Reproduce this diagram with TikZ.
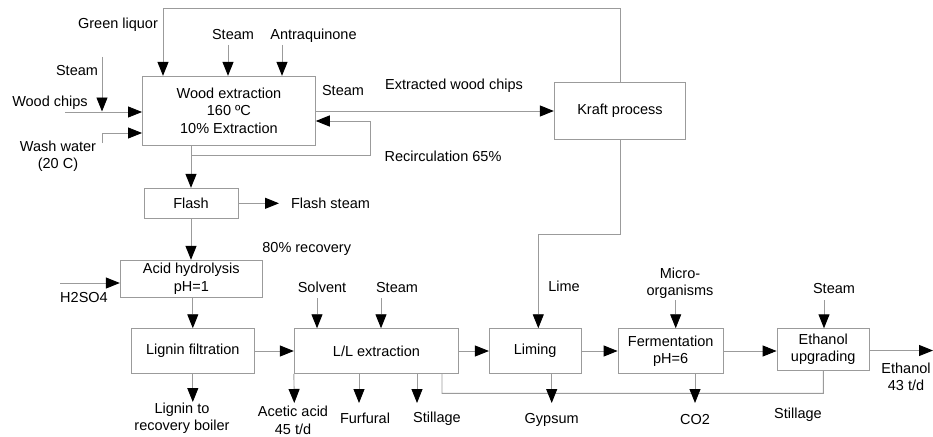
\documentclass[tikz,border=0pt]{standalone}
\usepackage{fontspec}
\setmainfont{Liberation Sans}
\usetikzlibrary{arrows.meta}
\definecolor{lg}{RGB}{155,155,155}
\begin{document}
\begin{tikzpicture}[x=1pt,y=-1pt,
  font=\fontsize{14.5}{17.5}\selectfont,
  box/.style={draw=lg, line width=0.9pt, fill=white, align=center, inner sep=0pt},
  ln/.style={draw=lg, line width=0.9pt},
  arr/.style={ln, -{Triangle[length=14pt,width=11pt,color=black]}},
  lbl/.style={inner sep=0pt, anchor=base},
  mlbl/.style={inner sep=0pt, align=center}]
\useasboundingbox (0,0) rectangle (933,436);

% boxes
\node[box,minimum width=172.8pt,minimum height=69pt] (we) at (228.9,110.8) {Wood extraction\\160 ºC\\10\% Extraction};
\node[box,minimum width=131.4pt,minimum height=56.7pt] (kraft) at (620,110.7) {Kraft process};
\node[box,minimum width=94pt,minimum height=30pt] (flash) at (191,203.3) {Flash};
\node[box,minimum width=142pt,minimum height=37pt] (acid) at (191.3,278.8) {Acid hydrolysis\\pH=1};
\node[box,minimum width=123pt,minimum height=44.6pt] (lig) at (192.8,351) {Lignin filtration};
\node[box,minimum width=164.4pt,minimum height=44.6pt] (ll) at (376.5,351) {L/L extraction};
\node[box,minimum width=91.7pt,minimum height=44.6pt] (lim) at (535.2,351) {Liming};
\node[box,minimum width=105.3pt,minimum height=44.6pt] (fer) at (670.7,351) {Fermentation\\pH=6};
\node[box,minimum width=92.3pt,minimum height=41.3pt] (eth) at (823.2,349.4) {Ethanol\\upgrading};

% labels
\node[lbl] (tgl) at (118,28.2) {Green liquor};
\node[lbl] (ts1) at (233,39.2) {Steam};
\node[lbl] (taq) at (313.5,39.2) {Antraquinone};
\node[lbl] (ts2) at (77,75) {Steam};
\node[lbl] (twc) at (50,106) {Wood chips};
\node[mlbl] (tww) at (58,156) {Wash water\\(20 C)};
\node[lbl] (ts5) at (343,95) {Steam};
\node[lbl] (tex) at (454,89) {Extracted wood chips};
\node[lbl] (trc) at (443,161) {Recirculation 65\%};
\node[lbl] (tfs) at (330.5,208.2) {Flash steam};
\node[lbl] (t80) at (306.7,252) {80\% recovery};
\node[lbl] (th2) at (84,302) {H2SO4};
\node[mlbl] (tlo) at (182,418) {Lignin to\\recovery boiler};
\node[lbl] (tsv) at (322,292) {Solvent};
\node[lbl] (ts3) at (397,292) {Steam};
\node[mlbl] (taa) at (293,420.5) {Acetic acid\\45 t/d};
\node[lbl] (tff) at (365,423) {Furfural};
\node[lbl] (tst) at (437,422) {Stillage};
\node[lbl] (tgy) at (551.7,423) {Gypsum};
\node[lbl] (tco) at (695,424) {CO2};
\node[lbl] (tst2) at (798,418) {Stillage};
\node[lbl] (tlm) at (564,291) {Lime};
\node[mlbl] (tmo) at (680,283) {Micro-\\organisms};
\node[lbl] (ts4) at (834,293) {Steam};
\node[mlbl] (teo) at (906,377) {Ethanol\\43 t/d};

% connectors
\coordinate (glc) at (163,8);
\draw[arr] (kraft.north) |- (glc) -- (glc |- we.north);
\coordinate (s1) at (228,45);
\draw[arr] (s1) -- (s1 |- we.north);
\coordinate (aq) at (282,45);
\draw[arr] (aq) -- (aq |- we.north);
\coordinate (s2) at (102,57);
\coordinate (s2e) at (102,111.5);
\draw[arr] (s2) -- (s2e);
\coordinate (wc) at (65,112);
\draw[arr] (wc) -- (wc -| we.west);
\coordinate (ww) at (102,143);
\coordinate (wwc) at (102,133);
\draw[arr] (ww) -- (wwc) -- (wwc -| we.west);
\coordinate (exy) at (0,111);
\draw[arr] (we.east |- exy) -- (kraft.west |- exy);
\coordinate (rc1) at (0,155);
\coordinate (rc2) at (370,155);
\coordinate (rc3) at (370,121);
\draw[arr] (flash.north |- rc1) -- (rc2) -- (rc3) -- (rc3 -| we.east);
\draw[arr] (flash.north |- we.south) -- (flash.north);
\coordinate (fs) at (279,203.3);
\draw[arr] (flash.east) -- (fs);
\draw[arr] (flash.south) -- (flash.south |- acid.north);
\coordinate (h2) at (60,283);
\draw[arr] (h2) -- (h2 -| acid.west);
\draw[arr] (lig.north |- acid.south) -- (lig.north);
\coordinate (lo) at (192.8,402);
\draw[arr] (lig.south) -- (lo);
\draw[arr] (lig.east) -- (ll.west);
\coordinate (sv) at (317,298);
\draw[arr] (sv) -- (sv |- ll.north);
\coordinate (s3) at (381,298);
\draw[arr] (s3) -- (s3 |- ll.north);
\coordinate (aa) at (294.3,403);
\draw[arr] (ll.south west) -- (aa);
\coordinate (ff) at (359,403);
\draw[arr] (ff |- ll.south) -- (ff);
\coordinate (st) at (417,403);
\draw[arr] (st |- ll.south) -- (st);
\coordinate (sl) at (442,393.3);
\coordinate (sr) at (823.3,393.3);
\draw[ln] (sl |- ll.south) -- (sl) -- (548.2,393.3) arc[start angle=180,end angle=360,radius=3.5]
  -- (691.5,393.3) arc[start angle=180,end angle=360,radius=3.5] -- (sr) -- (sr |- eth.south);
\coordinate (gy) at (551.7,403);
\draw[arr] (gy |- lim.south) -- (gy);
\coordinate (co) at (695,403);
\draw[arr] (co |- fer.south) -- (co);
\coordinate (lmc) at (538.3,234);
\draw[arr] (kraft.south) |- (lmc) -- (lmc |- lim.north);
\draw[arr] (ll.east) -- (lim.west);
\draw[arr] (lim.east) -- (fer.west);
\draw[arr] (fer.east) -- (fer.east -| eth.west);
\coordinate (mo) at (675.7,300);
\draw[arr] (mo) -- (mo |- fer.north);
\coordinate (s4) at (824,300);
\draw[arr] (s4) -- (s4 |- eth.north);
\coordinate (eo) at (933,350.5);
\draw[arr] (eth.east |- eo) -- (eo);
\end{tikzpicture}
\end{document}
